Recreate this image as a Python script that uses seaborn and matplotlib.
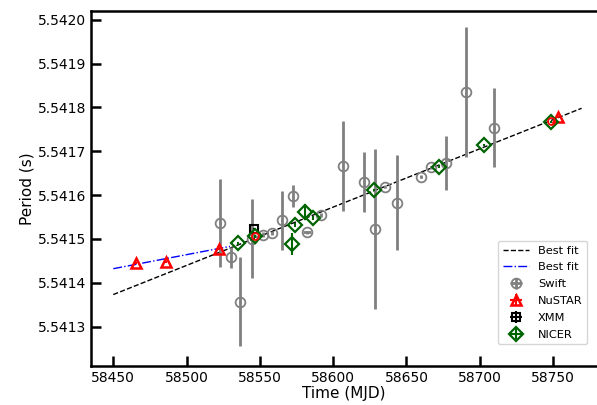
import matplotlib
matplotlib.use('Agg')
import matplotlib.pyplot as plt
import numpy as np
import pandas as pd
import seaborn as sns

# Swift (grey circles)
swift_mjd = [58522.7, 58530.0, 58536.4, 58544.4, 58552.3, 58558.4, 58564.8, 58572.3,
             58582.1, 58591.4, 58606.4, 58621.0, 58628.4, 58635.2, 58643.6, 58659.8,
             58666.6, 58676.8, 58690.3, 58709.6]
swift_p = [5.541537, 5.541458, 5.541357, 5.541500, 5.541510, 5.541514, 5.541542, 5.541597,
           5.541515, 5.541555, 5.541667, 5.541630, 5.541523, 5.541619, 5.541583, 5.541642,
           5.541663, 5.541673, 5.541835, 5.541754]
swift_perr = [1.0e-4, 2.4e-5, 1.02e-4, 9.0e-5, 5e-6, 5e-6, 6.8e-5, 2.5e-5,
              3e-6, 5e-6, 1.03e-4, 6.8e-5, 1.83e-4, 3e-6, 1.09e-4, 3e-6,
              3e-6, 6.1e-5, 1.49e-4, 9.0e-5]
swift_terr = [0.5, 0.5, 0.5, 0.5, 0.5, 0.5, 0.5, 0.5,
              3.0, 0.5, 0.5, 0.5, 0.5, 0.5, 0.5, 0.5,
              0.5, 0.5, 0.5, 0.5]

# NuSTAR (red triangles)
nustar_mjd = [58465.3, 58485.9, 58522.1, 58753.5]
nustar_p = [5.541445, 5.541448, 5.541477, 5.541778]
nustar_perr = [2e-6, 2e-6, 2e-6, 2e-6]

# extra red points under the NICER markers
red_mjd = [58546.6, 58748.4]
red_p = [5.541506, 5.541769]

# XMM (black square)
xmm_mjd = [58545.9]
xmm_p = [5.541523]
xmm_perr = [3e-6]

# NICER (green diamonds)
nicer_mjd = [58535.2, 58546.6, 58573.9, 58571.6, 58580.7, 58586.0, 58628.0, 58672.3,
             58703.0, 58748.9]
nicer_p = [5.541490, 5.541506, 5.541532, 5.541489, 5.541561, 5.541548, 5.541612, 5.541665,
           5.541714, 5.541767]
nicer_perr = [4e-6, 3e-6, 4e-6, 2.5e-5, 1.9e-5, 4e-6, 3e-6, 3e-6, 3e-6, 3e-6]

# best fit lines (end points)
fit_all_mjd = [58450, 58769.5]
fit_all_p = [5.541373, 5.541798]
fit_early_mjd = [58450, 58529.6]
fit_early_p = [5.541432, 5.541483]

sns.set_style('ticks')
plt.rcParams['font.family'] = ['DejaVu Sans']
plt.rcParams['axes.edgecolor'] = 'black'
plt.rcParams['axes.labelcolor'] = 'black'
plt.rcParams['text.color'] = 'black'
plt.rcParams['xtick.color'] = 'black'
plt.rcParams['ytick.color'] = 'black'

fig = plt.figure(figsize=(5.97, 4.05), dpi=100)
ax = fig.add_axes([91 / 597, 1 - 366 / 405, 1 - 91 / 597, (366 - 11) / 405])

sns.lineplot(x=fit_all_mjd, y=fit_all_p, ax=ax, color='black', linestyle='--',
             linewidth=1.0, label='Best fit')
sns.lineplot(x=fit_early_mjd, y=fit_early_p, ax=ax, color='blue', linestyle='-.',
             linewidth=1.0, label='Best fit')

ax.errorbar(swift_mjd, swift_p, yerr=swift_perr, xerr=swift_terr, fmt='o', color='gray',
            mfc='none', mec='gray', ms=7, mew=1.3, elinewidth=2, capsize=0,
            label='Swift', zorder=2)
ax.errorbar(nustar_mjd, nustar_p, yerr=nustar_perr, xerr=[0.5] * len(nustar_mjd), fmt='^',
            color='red', mfc='none', mec='red', ms=7, mew=1.8, elinewidth=1.5,
            label='NuSTAR', zorder=4)
ax.errorbar(xmm_mjd, xmm_p, yerr=xmm_perr, xerr=[0.5], fmt='s', color='black',
            mfc='none', mec='black', ms=6, mew=1.5, elinewidth=1.5, label='XMM', zorder=3)
ax.errorbar(nicer_mjd, nicer_p, yerr=nicer_perr, xerr=[0.5] * len(nicer_mjd), fmt='D',
            color='darkgreen', mfc='none', mec='darkgreen', ms=7, mew=1.6, elinewidth=1.5,
            label='NICER', zorder=5)
ax.plot(red_mjd, red_p, 'o', mfc='none', mec='red', ms=5, mew=1.3, zorder=6)

ax.set_xlim(58434.8, 58780)
ax.set_ylim(5.54121, 5.54202)
ax.set_xticks([58450, 58500, 58550, 58600, 58650, 58700, 58750])
ax.set_yticks(np.arange(5.5413, 5.54201, 0.0001))
ax.yaxis.set_major_formatter(matplotlib.ticker.FormatStrFormatter('%.4f'))
ax.ticklabel_format(axis='x', useOffset=False, style='plain')

ax.spines['right'].set_visible(False)
for side in ['left', 'bottom', 'top']:
    ax.spines[side].set_linewidth(1.8)
ax.tick_params(direction='in', length=7, width=1.8, labelsize=10, top=False, right=False)

ax.set_xlabel('Time (MJD)', fontsize=11, labelpad=1)
ax.set_ylabel('Period (s)', fontsize=11, labelpad=2)

ax.legend(loc='lower right', fontsize=8.2, frameon=True, bbox_to_anchor=(0.992, 0.045),
          handlelength=2.3, labelspacing=0.6)

fig.savefig('out.png', dpi=100)
